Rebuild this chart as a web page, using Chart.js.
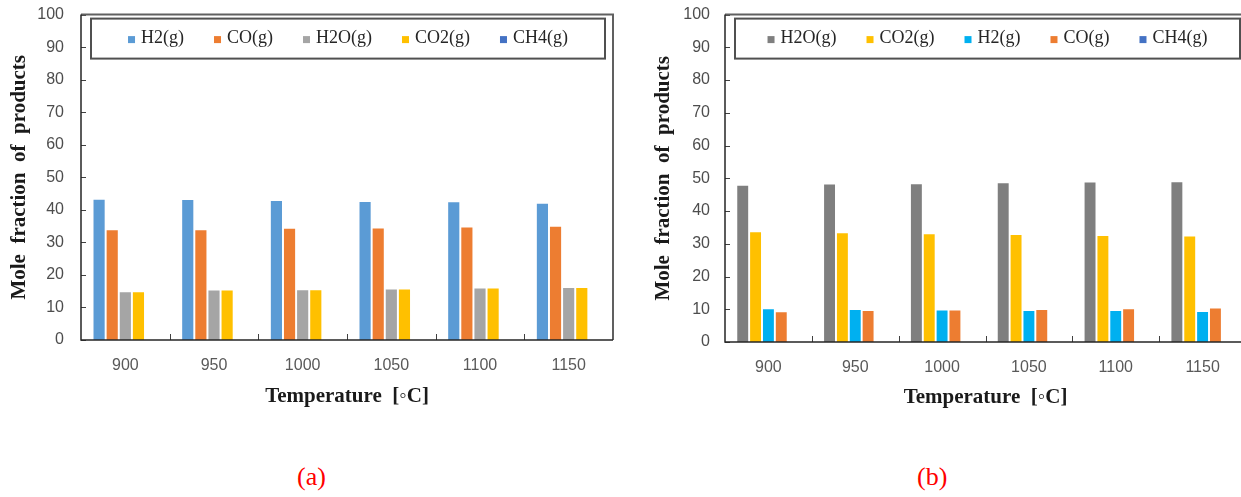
<!DOCTYPE html>
<html><head><meta charset="utf-8">
<script src="https://cdn.jsdelivr.net/npm/chart.js@4"></script>
<style>
html,body{margin:0;padding:0;background:#fff;overflow:hidden;width:1241px;height:497px;}
#ca{position:absolute;left:0;top:-12px;}
#cb{position:absolute;left:620px;top:-10px;}
.lab{position:absolute;top:462px;font:26px 'Liberation Serif',serif;color:#ff0000;line-height:30px;}
</style></head><body>
<canvas id="ca" width="620" height="432"></canvas>
<canvas id="cb" width="630" height="432"></canvas>
<div class="lab" style="left:297px">(a)</div>
<div class="lab" style="left:917px">(b)</div>
<script>
const temperatures = ['900', '950', '1000', '1050', '1100', '1150'];
// panel (a)
const aH2  = [43.1, 43.0, 42.7, 42.4, 42.3, 41.9];
const aCO  = [33.7, 33.7, 34.2, 34.3, 34.6, 34.8];
const aH2O = [14.7, 15.2, 15.3, 15.5, 15.8, 16.0];
const aCO2 = [14.7, 15.2, 15.3, 15.5, 15.8, 16.0];
const aCH4 = [0, 0, 0, 0, 0, 0];
// panel (b)
const bH2O = [47.7, 48.1, 48.2, 48.5, 48.7, 48.8];
const bCO2 = [33.5, 33.2, 32.9, 32.7, 32.4, 32.2];
const bH2  = [10.0, 9.8, 9.6, 9.5, 9.5, 9.2];
const bCO  = [9.1, 9.5, 9.6, 9.8, 10.0, 10.2];
const bCH4 = [0, 0, 0, 0, 0, 0];

const yMin = 0, yMax = 100, yStep = 10;
const xTitle = 'Temperature  [\u25E6C]';
const yTitle = 'Mole  fraction  of  products';

const SERIF = "'Liberation Serif','Times New Roman',serif";
const SANS = "'Liberation Sans',Arial,sans-serif";

const decor = {
  id: 'decor',
  afterDatasetsDraw(chart, args, opts) {
    const {ctx, chartArea: a, scales: {x, y}} = chart;
    ctx.save();
    ctx.strokeStyle = '#404040'; ctx.lineWidth = 1;
    y.ticks.forEach((t, i) => {
      const py = Math.round(y.getPixelForTick(i)) + 0.5;
      ctx.beginPath(); ctx.moveTo(a.left, py); ctx.lineTo(a.left + 5, py); ctx.stroke();
    });
    for (let i = 1; i < x.ticks.length; i++) {
      const px = Math.round((x.getPixelForTick(i - 1) + x.getPixelForTick(i)) / 2) + 0.5;
      ctx.beginPath(); ctx.moveTo(px, a.bottom); ctx.lineTo(px, a.bottom - 6); ctx.stroke();
    }
    ctx.strokeStyle = '#606060'; ctx.lineWidth = 2;
    ctx.beginPath();
    ctx.moveTo(a.left, a.top); ctx.lineTo(a.right, a.top); ctx.lineTo(a.right, a.bottom);
    ctx.stroke();
    ctx.strokeStyle = '#262626'; ctx.lineWidth = 1.5;
    ctx.beginPath();
    ctx.moveTo(a.left, a.top); ctx.lineTo(a.left, a.bottom); ctx.lineTo(a.right, a.bottom);
    ctx.stroke();
    const bx = a.left + 10, by = a.top + 4, bw = (a.right - opts.boxRightInset) - bx, bh = 40;
    ctx.strokeStyle = '#505050'; ctx.lineWidth = 2;
    ctx.strokeRect(bx, by, bw, bh);
    ctx.font = '18px ' + SERIF;
    ctx.textBaseline = 'middle';
    const sq = 7, gap = 6, spacing = 30;
    const ds = chart.data.datasets;
    const widths = ds.map(d => ctx.measureText(d.label).width);
    let total = widths.reduce((s, w) => s + sq + gap + w, 0) + spacing * (ds.length - 1);
    let cx = bx + (bw - total) / 2;
    const cy = by + bh / 2;
    ds.forEach((d, i) => {
      ctx.fillStyle = d.backgroundColor;
      ctx.fillRect(cx, cy - sq / 2 + 1, sq, sq);
      ctx.fillStyle = '#262626';
      ctx.fillText(d.label, cx + sq + gap, cy);
      cx += sq + gap + widths[i] + spacing;
    });
    ctx.restore();
  }
};

function makeChart(id, datasets, o) {
  return new Chart(document.getElementById(id), {
    type: 'bar',
    data: {labels: temperatures, datasets},
    options: {
      responsive: false, animation: false, devicePixelRatio: 1,
      layout: {padding: {top: o.padTop, right: o.padRight, left: 0, bottom: 0}},
      datasets: {bar: {categoryPercentage: 0.74, barPercentage: 0.85}},
      plugins: {legend: {display: false}, tooltip: {enabled: false},
                decor: {boxRightInset: o.boxRightInset}},
      scales: {
        x: {
          grid: {display: false, drawTicks: false}, border: {display: false},
          ticks: {color: '#595959', font: {family: SANS, size: 16}, padding: 16, maxRotation: 0},
          title: {display: true, text: xTitle, color: '#1a1a1a',
                  font: {family: SERIF, size: 21, weight: 'bold'},
                  padding: {top: 0, bottom: o.xTitlePad}},
          afterFit(s) { s.height = o.xH; }
        },
        y: {
          min: yMin, max: yMax,
          grid: {display: false, drawTicks: false}, border: {display: false},
          ticks: {stepSize: yStep, color: '#4d4d4d', font: {family: SANS, size: 16}, padding: o.yTickPad},
          title: {display: true, text: yTitle, color: '#1a1a1a',
                  font: {family: SERIF, size: 21, weight: 'bold'},
                  padding: {top: o.yTitlePad, bottom: 0}},
          afterFit(s) { s.width = o.yW; }
        }
      }
    },
    plugins: [decor]
  });
}

makeChart('ca', [
  {label: 'H2(g)',  data: aH2,  backgroundColor: '#5B9BD5'},
  {label: 'CO(g)',  data: aCO,  backgroundColor: '#ED7D31'},
  {label: 'H2O(g)', data: aH2O, backgroundColor: '#A5A5A5'},
  {label: 'CO2(g)', data: aCO2, backgroundColor: '#FFC000'},
  {label: 'CH4(g)', data: aCH4, backgroundColor: '#4472C4'}
], {padTop: 2, padRight: 7, boxRightInset: 8, xTitlePad: 10.4, xH: 80, yTitlePad: 7, yW: 81, yTickPad: 17});

makeChart('cb', [
  {label: 'H2O(g)', data: bH2O, backgroundColor: '#7F7F7F'},
  {label: 'CO2(g)', data: bCO2, backgroundColor: '#FFC000'},
  {label: 'H2(g)',  data: bH2,  backgroundColor: '#00B0F0'},
  {label: 'CO(g)',  data: bCO,  backgroundColor: '#ED7D31'},
  {label: 'CH4(g)', data: bCH4, backgroundColor: '#4472C4'}
], {padTop: 2, padRight: 4, boxRightInset: 6, xTitlePad: 11.4, xH: 80, yTitlePad: 31, yW: 105, yTickPad: 15});
</script>
</body></html>
